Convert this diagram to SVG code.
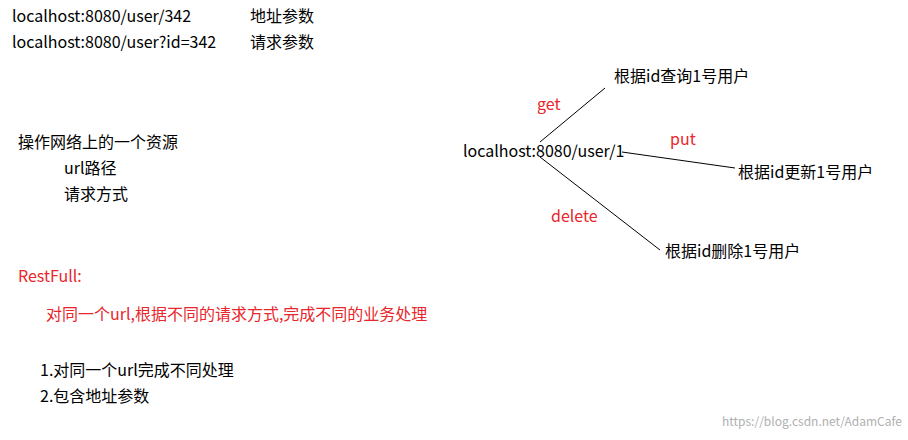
<svg xmlns="http://www.w3.org/2000/svg" width="908" height="440" viewBox="0 0 908 440">
<style>
text{font-family:"Microsoft YaHei","Noto Sans CJK SC",sans-serif;font-size:16px;fill:#000}
.r{fill:#e8262b}
.w{fill:#b0b0b0;font-size:12px}
line{stroke:#000;stroke-width:1}
</style>
<rect width="908" height="440" fill="#fff"/>
<g id="notes">
<text x="12" y="22">localhost:8080/user/342</text>
<text x="250" y="22">地址参数</text>
<text x="12" y="48">localhost:8080/user?id=342</text>
<text x="250" y="48">请求参数</text>
<text x="18" y="148">操作网络上的一个资源</text>
<text x="64" y="174">url路径</text>
<text x="64" y="200">请求方式</text>
<text x="18" y="282" class="r">RestFull:</text>
<text x="46" y="320" class="r">对同一个url,根据不同的请求方式,完成不同的业务处理</text>
<text x="40" y="376">1.对同一个url完成不同处理</text>
<text x="40" y="402">2.包含地址参数</text>
</g>
<g id="n-url"><text x="463" y="157">localhost:8080/user/1</text></g>
<g id="n-get"><text x="614" y="82">根据id查询1号用户</text></g>
<g id="n-put"><text x="738" y="178">根据id更新1号用户</text></g>
<g id="n-del"><text x="665" y="257">根据id删除1号用户</text></g>
<g id="connectors">
<line x1="540" y1="142" x2="605" y2="88"/>
<line x1="622" y1="152" x2="735" y2="168"/>
<line x1="540" y1="157" x2="660" y2="250"/>
</g>
<g id="labels">
<text x="537" y="110" class="r">get</text>
<text x="670" y="145" class="r">put</text>
<text x="551" y="222" class="r">delete</text>
</g>
<text x="722" y="426" class="w">https://blog.csdn.net/AdamCafe</text>
</svg>
